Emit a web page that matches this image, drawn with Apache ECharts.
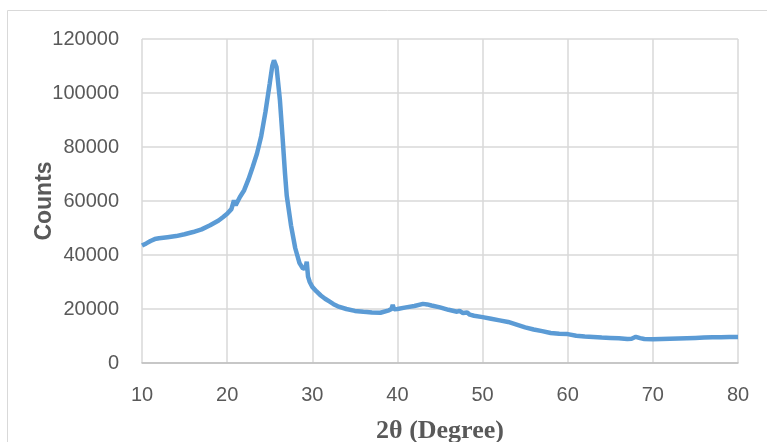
<!DOCTYPE html>
<html lang="en">
<head>
    <meta charset="utf-8">
    <title>XRD pattern</title>
    <script src="https://cdn.jsdelivr.net/npm/echarts@6/dist/echarts.min.js"></script>
    <style>
        html, body { margin: 0; padding: 0; background: #fff; }
    </style>
</head>
<body>

<div id="main" style="width: 767px;height:442px;"></div>

<script>
    // 2θ positions (degree)
    var twoTheta = [
        10, 10.5, 11, 11.5, 12, 13, 14, 15, 16, 17, 18, 19, 19.5, 20, 20.5, 20.8, 21.0, 21.5, 22, 22.5,
        23, 23.5, 24, 24.5, 25, 25.3, 25.5, 25.8, 26.2, 26.5, 26.8, 27.0, 27.5, 28.0, 28.5, 28.9, 29.2, 29.35, 29.5, 29.7,
        30.0, 30.5, 31, 31.5, 32, 32.5, 33, 34, 35, 36, 36.2, 36.4, 37, 38, 39, 39.3, 39.45, 39.6, 40, 41,
        42, 43, 43.2, 43.5, 44, 45, 46, 47, 47.3, 47.7, 48.2, 48.5, 49, 50, 51, 52, 53, 54, 55, 56,
        57, 58, 59, 60, 61, 62, 63, 64, 65, 66, 67, 67.5, 68, 68.5, 69, 70, 71, 72, 73, 74,
        75, 76, 77, 78, 79, 80
    ];
    // intensity (counts)
    var counts = [
        43500, 44300, 45200, 45900, 46200, 46600, 47000, 47700, 48500, 49500, 51000, 52800, 54000, 55300, 57000, 60200, 58400, 61500, 64000, 68000,
        72600, 77500, 84000, 93000, 103500, 110000, 112100, 109600, 97300, 84000, 70000, 62000, 51000, 42500, 37000, 35000, 35200, 37500, 32000, 30000,
        28200, 26500, 25000, 23800, 22800, 21800, 21000, 20000, 19300, 19000, 19500, 18900, 18700, 18600, 19500, 20000, 21500, 19900, 20000, 20600,
        21100, 21900, 22200, 21700, 21300, 20600, 19700, 19000, 19300, 18500, 18700, 17900, 17500, 17000, 16400, 15800, 15200, 14200, 13200, 12400,
        11800, 11100, 10800, 10700, 10100, 9800, 9600, 9400, 9300, 9200, 8900, 9000, 9700, 9200, 8900, 8800, 8900, 9000, 9100, 9200,
        9300, 9400, 9500, 9500, 9600, 9600
    ];

    var points = [];
    for (var i = 0; i < twoTheta.length; i++) {
        points.push([twoTheta[i], counts[i]]);
    }

    var myChart = echarts.init(document.getElementById('main'));

    var option = {
        animation: false,
        graphic: [{
            type: 'rect',
            shape: {x: 7.5, y: 10.5, width: 800, height: 500},
            style: {fill: 'none', stroke: '#d9d9d9', lineWidth: 1},
            silent: true
        }],
        grid: {left: 142, top: 39, right: 29, bottom: 79, outerBoundsMode: 'none'},
        xAxis: {
            type: 'value',
            min: 10,
            max: 80,
            interval: 10,
            name: '2θ (Degree)',
            nameLocation: 'middle',
            nameGap: 55,
            nameMoveOverlap: false,
            nameTextStyle: {
                fontFamily: 'Liberation Serif',
                fontWeight: 'bold',
                fontSize: 26,
                color: '#595959'
            },
            axisLine: {lineStyle: {color: '#bfbfbf', width: 1.5}},
            axisTick: {show: false},
            axisLabel: {
                fontFamily: 'Liberation Sans',
                fontSize: 20,
                color: '#595959',
                margin: 22
            },
            splitLine: {show: true, lineStyle: {color: '#d9d9d9', width: 1.5}}
        },
        yAxis: {
            type: 'value',
            min: 0,
            max: 120000,
            interval: 20000,
            name: 'Counts',
            nameLocation: 'middle',
            nameGap: 86,
            nameMoveOverlap: false,
            nameTextStyle: {
                fontFamily: 'Liberation Sans',
                fontWeight: 'bold',
                fontSize: 23,
                color: '#595959'
            },
            axisLine: {show: false},
            axisTick: {show: false},
            axisLabel: {
                fontFamily: 'Liberation Sans',
                fontSize: 20,
                color: '#595959',
                margin: 23,
                formatter: function (v) { return String(v); }
            },
            splitLine: {show: true, lineStyle: {color: '#d9d9d9', width: 1.5}}
        },
        series: [{
            type: 'line',
            data: points,
            showSymbol: false,
            smooth: false,
            lineStyle: {color: '#5b9bd5', width: 4.5},
            itemStyle: {color: '#5b9bd5'}
        }]
    };

    myChart.setOption(option);
</script>
</body>
</html>
